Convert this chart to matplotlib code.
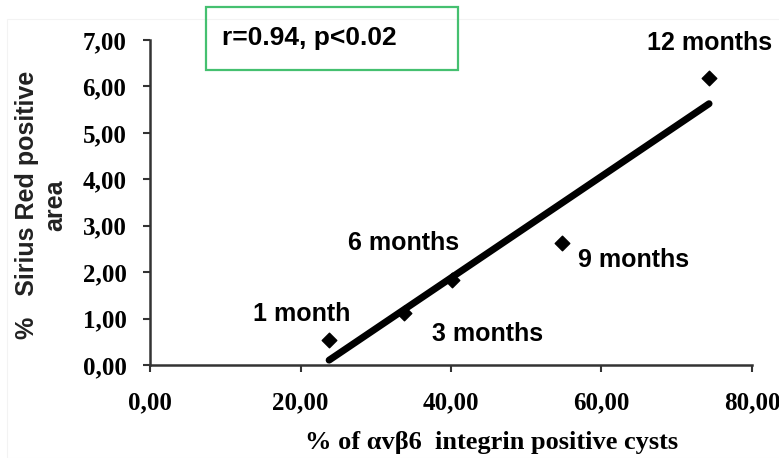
import numpy as np
import matplotlib.pyplot as plt
from matplotlib.patches import Rectangle

# values
integrin_pct = [23.8, 33.8, 40.1, 54.7, 74.3]
sirius_red = [0.54, 1.12, 1.83, 2.62, 6.19]
time_labels = ["1 month", "3 months", "6 months", "9 months", "12 months"]
x_ticks = [0, 20, 40, 60, 80]
y_ticks = [0, 1, 2, 3, 4, 5, 6, 7]
stats_text = "r=0.94, p<0.02"

# label offsets (points) relative to each marker
label_offsets = [(-55, 19), (20, -15), (-75, 27), (12, -12), (0, 25)]
label_ha = ["left", "left", "left", "left", "center"]

label_font = ["Liberation Sans Narrow", "Liberation Sans", "DejaVu Sans"]
tick_font = ["Liberation Serif", "DejaVu Serif"]


def comma_fmt(v):
    return f"{v:.2f}".replace(".", ",")


fig = plt.figure(figsize=(7.79, 4.58), dpi=100)
ax = fig.add_axes([0.1926, 0.2031, 0.7727, 0.7096])

# faint chart-area border
fig.patches.append(Rectangle((7 / 779, 0.0), 1.0, 1 - 19 / 458,
                             transform=fig.transFigure, fill=False,
                             edgecolor="#f3f3f3", linewidth=0.8))

ax.scatter(integrin_pct, sirius_red, marker="D", s=55, color="black", zorder=3)

# linear trend line
slope, intercept = np.polyfit(integrin_pct, sirius_red, 1)
xs = np.array([min(integrin_pct), max(integrin_pct)])
ax.plot(xs, slope * xs + intercept, color="black", linewidth=5,
        solid_capstyle="round", zorder=2)

for x, y, lab, off, ha in zip(integrin_pct, sirius_red, time_labels,
                              label_offsets, label_ha):
    ax.annotate(lab, (x, y), xytext=off, textcoords="offset points",
                ha=ha, va="center", fontsize=18, fontweight="bold",
                family=label_font)

ax.set_xlim(0, 80)
ax.set_ylim(0, 7)
ax.set_xticks(x_ticks)
ax.set_yticks(y_ticks)
ax.set_xticklabels([comma_fmt(v) for v in x_ticks])
ax.set_yticklabels([comma_fmt(v) for v in y_ticks])
for lab in ax.get_xticklabels() + ax.get_yticklabels():
    lab.set_family(tick_font)
    lab.set_fontweight("bold")
    lab.set_fontsize(18)
ax.tick_params(direction="out", length=5, width=1.5, color="#333333")
ax.tick_params(axis="y", pad=12)
ax.tick_params(axis="x", pad=14)

for side in ["top", "right"]:
    ax.spines[side].set_visible(False)
for side in ["left", "bottom"]:
    ax.spines[side].set_linewidth(1.8)
    ax.spines[side].set_color("#333333")

ax.set_xlabel("% of \u03b1v\u03b26  integrin positive cysts", fontsize=19,
              fontweight="bold", family=tick_font)
ax.xaxis.label.set_va("center")
ax.xaxis.set_label_coords(0.568, -0.237)
fig.text(27 / 779, 1 - 205 / 458, "%   Sirius Red positive", rotation=90,
         ha="center", va="center", fontsize=18, fontweight="bold",
         family=["Liberation Sans", "DejaVu Sans"], color="#222222")
fig.text(55 / 779, 1 - 205 / 458, "area", rotation=90,
         ha="center", va="center", fontsize=18, fontweight="bold",
         family=["Liberation Sans", "DejaVu Sans"], color="#222222")

# stats box
fig.patches.append(Rectangle((206 / 779, 1 - 70 / 458), 252 / 779, 63 / 458,
                             transform=fig.transFigure, fill=False,
                             edgecolor="#45c070", linewidth=1.6))
fig.text(222 / 779, 1 - 38 / 458, stats_text, ha="left", va="center",
         fontsize=19, fontweight="bold", family=["Liberation Sans", "DejaVu Sans"])

fig.savefig("out.png", dpi=100)
